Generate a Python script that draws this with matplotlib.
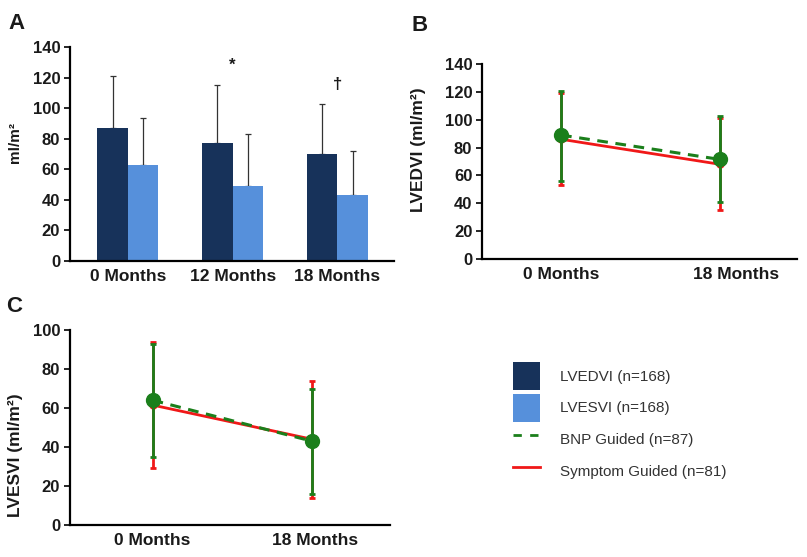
import matplotlib
matplotlib.use("Agg")
import matplotlib.pyplot as plt
import numpy as np
from matplotlib.patches import Patch
from matplotlib.lines import Line2D

plt.rcParams['font.family'] = ['Liberation Sans', 'DejaVu Sans']

# Panel A data
bar_categories = ["0 Months", "12 Months", "18 Months"]
lvedvi_mean = [87, 77, 70]
lvedvi_sd = [34, 38, 32.5]
lvesvi_mean = [63, 49, 43.5]
lvesvi_sd = [30.5, 34, 28.5]
sig_marks = ["", "*", "\u2020"]

# Panels B and C data
line_categories = ["0 Months", "18 Months"]
b_bnp_mean = [89, 71.5]
b_bnp_lo = [56, 41]
b_bnp_hi = [121, 103]
b_sym_mean = [86, 68]
b_sym_lo = [53, 35]
b_sym_hi = [119, 101]

c_bnp_mean = [64, 43]
c_bnp_lo = [35, 16]
c_bnp_hi = [93, 70]
c_sym_mean = [61.5, 44]
c_sym_lo = [29, 14]
c_sym_hi = [94, 74]

legend_labels = ["LVEDVI (n=168)", "LVESVI (n=168)", "BNP Guided (n=87)", "Symptom Guided (n=81)"]

DARK = "#17325a"
LIGHT = "#5690db"
GREEN = "#1b7f1b"
RED = "#f01818"
TXT = "#1a1a1a"

fig = plt.figure(figsize=(8.07, 5.57), dpi=100)

def style_axes(ax):
    for s in ["top", "right"]:
        ax.spines[s].set_visible(False)
    ax.spines["left"].set_linewidth(1.6)
    ax.spines["bottom"].set_linewidth(1.6)
    ax.tick_params(axis="y", length=4, width=1.2, labelsize=12, pad=3)
    ax.tick_params(axis="x", length=0, labelsize=12.5, pad=6)
    for t in ax.get_xticklabels() + ax.get_yticklabels():
        t.set_fontweight("bold")
        t.set_color(TXT)

# ---- Panel A
axA = fig.add_axes([0.0867, 0.5314, 0.402, 0.3842])
x = np.arange(len(bar_categories))
w = 0.29
axA.bar(x - w / 2, lvedvi_mean, w, color=DARK, zorder=2)
axA.bar(x + w / 2, lvesvi_mean, w, color=LIGHT, zorder=2)
axA.errorbar(x - w / 2, lvedvi_mean, yerr=[np.zeros(3), lvedvi_sd], fmt="none",
             ecolor="#333333", elinewidth=0.9, capsize=2.5, capthick=0.9, zorder=1)
axA.errorbar(x + w / 2, lvesvi_mean, yerr=[np.zeros(3), lvesvi_sd], fmt="none",
             ecolor="#333333", elinewidth=0.9, capsize=2.5, capthick=0.9, zorder=1)
for i, m in enumerate(sig_marks):
    if m:
        top = max(lvedvi_mean[i] + lvedvi_sd[i], lvesvi_mean[i] + lvesvi_sd[i])
        axA.text(x[i], top + 8, m, ha="center", va="bottom", fontsize=12, fontweight="bold", color=TXT)
axA.set_ylim(0, 140)
axA.set_yticks(range(0, 141, 20))
axA.set_xlim(-0.552, 2.543)
axA.set_xticks(x)
axA.set_xticklabels(bar_categories)
axA.set_ylabel("ml/m\u00b2", fontsize=11, fontweight="bold", color=TXT)
axA.yaxis.set_label_coords(-0.148, 0.556)
style_axes(axA)
fig.text(0.010, 0.958, "A", fontsize=16, fontweight="bold", color=TXT, va="center")

def line_panel(ax, bnp_m, bnp_lo, bnp_hi, sym_m, sym_lo, sym_hi):
    xp = np.arange(len(line_categories))
    sm = np.array(sym_m); sl = np.array(sym_lo); sh = np.array(sym_hi)
    bm = np.array(bnp_m); bl = np.array(bnp_lo); bh = np.array(bnp_hi)
    ax.errorbar(xp, sm, yerr=[sm - sl, sh - sm], color=RED, lw=2, marker="o", ms=5,
                elinewidth=2, capsize=2, capthick=2, zorder=2)
    ax.errorbar(xp, bm, yerr=[bm - bl, bh - bm], color=GREEN, lw=2.2, ls=(0, (3.5, 2.5)),
                marker="o", ms=10, elinewidth=2, capsize=2, capthick=2, zorder=3)
    return xp

# ---- Panel B
axB = fig.add_axes([0.5973, 0.535, 0.3903, 0.350])
line_panel(axB, b_bnp_mean, b_bnp_lo, b_bnp_hi, b_sym_mean, b_sym_lo, b_sym_hi)
axB.set_ylim(0, 140)
axB.set_yticks(range(0, 141, 20))
axB.set_xlim(-0.497, 1.484)
axB.set_xticks([0, 1.1])
axB.set_xticklabels(line_categories)
axB.set_ylabel("LVEDVI (ml/m\u00b2)", fontsize=12.5, fontweight="bold", color=TXT)
axB.yaxis.set_label_coords(-0.178, 0.559)
style_axes(axB)
fig.text(0.510, 0.954, "B", fontsize=16, fontweight="bold", color=TXT, va="center")

# ---- Panel C
axC = fig.add_axes([0.0867, 0.0575, 0.396, 0.350])
line_panel(axC, c_bnp_mean, c_bnp_lo, c_bnp_hi, c_sym_mean, c_sym_lo, c_sym_hi)
axC.set_ylim(0, 100)
axC.set_yticks(range(0, 101, 20))
axC.set_xlim(-0.519, 1.488)
axC.set_xticks([0, 1.02])
axC.set_xticklabels(line_categories)
axC.set_ylabel("LVESVI (ml/m\u00b2)", fontsize=12.5, fontweight="bold", color=TXT)
axC.yaxis.set_label_coords(-0.147, 0.359)
style_axes(axC)
fig.text(0.008, 0.450, "C", fontsize=16, fontweight="bold", color=TXT, va="center")

# ---- Legend
handles = [Patch(facecolor=DARK, edgecolor="none"),
           Patch(facecolor=LIGHT, edgecolor="none"),
           Line2D([0], [0], color=GREEN, lw=2, ls=(0, (3, 3))),
           Line2D([0], [0], color=RED, lw=2)]
fig.legend(handles, legend_labels, loc="upper left", bbox_to_anchor=(0.628, 0.361),
           borderaxespad=0, frameon=False, fontsize=11, handlelength=1.76, handleheight=2.44,
           handletextpad=1.3, labelspacing=0.25, labelcolor="#333333")

fig.savefig("out.png", dpi=100)
